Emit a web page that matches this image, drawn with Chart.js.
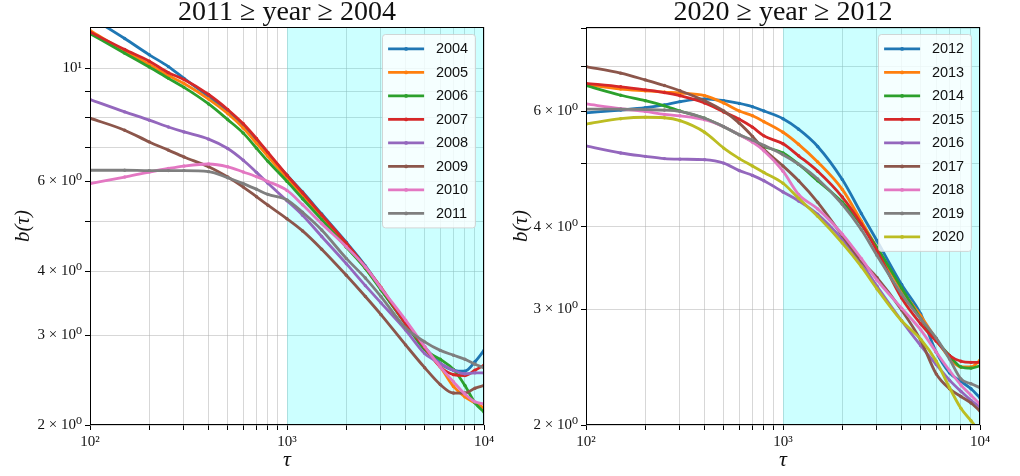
<!DOCTYPE html>
<html>
<head>
<meta charset="utf-8">
<script src="https://cdn.jsdelivr.net/npm/chart.js@4.4.1/dist/chart.umd.min.js"></script>
<style>
  html, body { margin: 0; padding: 0; background: #fff; }
  #wrap { position: relative; width: 1020px; height: 476px; }
  canvas { position: absolute; top: 0; }
  #left { left: 0; }
  #right { left: 500px; }
</style>
</head>
<body>
<div id="wrap">
  <canvas id="left" width="500" height="476"></canvas>
  <canvas id="right" width="520" height="476"></canvas>
</div>
<script>
// lag tau (x) shared by every curve
const tau = [100, 150, 200, 250, 300, 400, 500, 600, 700, 800, 1000, 1200, 1500,
             2000, 2500, 3000, 4000, 5000, 6000, 7000, 8000, 9000, 10000];

const yearsEarly = ['2004', '2005', '2006', '2007', '2008', '2009', '2010', '2011'];
const yearsLate = ['2012', '2013', '2014', '2015', '2016', '2017', '2018', '2019', '2020'];

// b(tau) per year
const b2004 = [12.60, 11.43, 10.62, 10.07, 9.55, 8.80, 8.25, 7.72, 7.22, 6.80, 6.17, 5.72, 5.18, 4.56, 4.10, 3.70, 3.16, 2.84, 2.64, 2.56, 2.55, 2.66, 2.80];
const b2005 = [11.86, 10.80, 10.17, 9.67, 9.33, 8.70, 8.15, 7.63, 7.13, 6.72, 6.08, 5.62, 5.10, 4.48, 4.06, 3.69, 3.16, 2.82, 2.60, 2.38, 2.27, 2.21, 2.16];
const b2006 = [11.69, 10.70, 10.05, 9.55, 9.17, 8.51, 7.93, 7.46, 6.97, 6.57, 6.00, 5.55, 5.05, 4.46, 4.05, 3.68, 3.16, 2.81, 2.69, 2.57, 2.39, 2.21, 2.12];
const b2007 = [11.77, 10.88, 10.32, 9.80, 9.50, 8.88, 8.30, 7.78, 7.28, 6.84, 6.17, 5.70, 5.16, 4.54, 4.08, 3.72, 3.16, 2.84, 2.60, 2.51, 2.50, 2.56, 2.62];
const b2008 = [8.68, 8.21, 7.91, 7.67, 7.50, 7.26, 6.96, 6.60, 6.25, 5.95, 5.50, 5.15, 4.68, 4.14, 3.75, 3.47, 3.07, 2.76, 2.64, 2.56, 2.52, 2.53, 2.53];
const b2009 = [7.98, 7.56, 7.17, 6.91, 6.70, 6.41, 6.12, 5.85, 5.60, 5.39, 5.07, 4.80, 4.42, 3.93, 3.57, 3.29, 2.87, 2.59, 2.40, 2.31, 2.31, 2.36, 2.39];
const b2010 = [5.94, 6.12, 6.26, 6.36, 6.43, 6.49, 6.41, 6.26, 6.13, 6.00, 5.76, 5.40, 4.96, 4.47, 4.08, 3.71, 3.21, 2.85, 2.60, 2.43, 2.30, 2.22, 2.20];
const b2011 = [6.31, 6.31, 6.30, 6.30, 6.30, 6.27, 6.10, 5.94, 5.79, 5.66, 5.52, 5.22, 4.82, 4.24, 3.88, 3.57, 3.10, 2.91, 2.80, 2.74, 2.69, 2.63, 2.59];

const b2012 = [5.96, 6.02, 6.07, 6.13, 6.20, 6.26, 6.22, 6.16, 6.09, 6.00, 5.84, 5.63, 5.30, 4.72, 4.19, 3.81, 3.27, 2.95, 2.58, 2.40, 2.33, 2.27, 2.20];
const b2013 = [6.58, 6.48, 6.44, 6.41, 6.39, 6.33, 6.17, 6.00, 5.90, 5.78, 5.57, 5.34, 5.02, 4.56, 4.08, 3.72, 3.21, 2.93, 2.70, 2.53, 2.45, 2.45, 2.51];
const b2014 = [6.56, 6.34, 6.22, 6.11, 6.00, 5.85, 5.68, 5.52, 5.40, 5.30, 5.18, 4.98, 4.70, 4.36, 4.03, 3.72, 3.23, 2.90, 2.69, 2.55, 2.45, 2.44, 2.46];
const b2015 = [6.61, 6.53, 6.46, 6.40, 6.33, 6.17, 5.98, 5.83, 5.67, 5.50, 5.35, 5.13, 4.86, 4.44, 4.04, 3.68, 3.12, 2.85, 2.68, 2.55, 2.50, 2.49, 2.49];
const b2016 = [5.31, 5.18, 5.12, 5.08, 5.07, 5.06, 5.00, 4.87, 4.79, 4.70, 4.52, 4.38, 4.18, 3.83, 3.52, 3.25, 2.88, 2.64, 2.47, 2.34, 2.25, 2.18, 2.13];
const b2017 = [7.01, 6.85, 6.69, 6.56, 6.44, 6.22, 6.00, 5.75, 5.49, 5.25, 4.95, 4.70, 4.36, 3.88, 3.55, 3.35, 2.99, 2.69, 2.39, 2.27, 2.21, 2.16, 2.10];
const b2018 = [6.15, 6.05, 5.99, 5.93, 5.90, 5.82, 5.68, 5.52, 5.38, 5.22, 4.86, 4.48, 4.26, 3.90, 3.58, 3.32, 3.01, 2.79, 2.58, 2.42, 2.30, 2.22, 2.15];
const b2019 = [6.04, 6.04, 6.03, 6.02, 5.99, 5.85, 5.68, 5.52, 5.42, 5.32, 5.15, 4.98, 4.73, 4.33, 3.96, 3.62, 3.16, 2.90, 2.71, 2.52, 2.35, 2.31, 2.28];
const b2020 = [5.73, 5.84, 5.87, 5.86, 5.80, 5.57, 5.27, 5.08, 4.95, 4.84, 4.66, 4.42, 4.15, 3.78, 3.48, 3.22, 2.88, 2.70, 2.50, 2.28, 2.12, 2.03, 1.95];

const seriesEarly = [b2004, b2005, b2006, b2007, b2008, b2009, b2010, b2011];
const seriesLate = [b2012, b2013, b2014, b2015, b2016, b2017, b2018, b2019, b2020];

// axis ticks; labels only on some of them, the rest just get a grid line
const xTicks = [100, 200, 300, 400, 500, 600, 700, 800, 900,
                1000, 2000, 3000, 4000, 5000, 6000, 7000, 8000, 9000, 10000];
const xTickText = { 100: '10²', 1000: '10³', 10000: '10⁴' };
const yTicksEarly = [2, 3, 4, 5, 6, 7, 8, 9, 10];
const yTicksLate = [2, 3, 4, 5, 6, 7, 8];
const yTickText = { 2: '2 × 10⁰', 3: '3 × 10⁰', 4: '4 × 10⁰', 6: '6 × 10⁰', 10: '10¹' };

// shaded fitting window
const bandFrom = 1000;
const bandTo = 10000;

const palette = ['#1f77b4', '#ff7f0e', '#2ca02c', '#d62728', '#9467bd',
                 '#8c564b', '#e377c2', '#7f7f7f', '#bcbd22'];

const serif = '"Liberation Serif", "DejaVu Serif", serif';

const band = {
  id: 'band',
  beforeDatasetsDraw(chart) {
    const { ctx, chartArea: a, scales: { x } } = chart;
    const x0 = x.getPixelForValue(bandFrom);
    const x1 = x.getPixelForValue(bandTo);
    ctx.save();
    ctx.fillStyle = 'rgba(0, 255, 255, 0.2)';
    ctx.fillRect(x0, a.top, x1 - x0, a.bottom - a.top);
    ctx.restore();
  }
};

// box around the axes, legend in the upper right, title on top
const decor = {
  id: 'decor',
  afterDraw(chart, args, opts) {
    const { ctx, chartArea: a } = chart;
    ctx.save();

    ctx.strokeStyle = '#000';
    ctx.lineWidth = 1;
    ctx.strokeRect(Math.round(a.left) + 0.5, Math.round(a.top) + 0.5,
                   Math.round(a.right - a.left) - 1, Math.round(a.bottom - a.top) - 1);

    ctx.fillStyle = '#111';
    ctx.font = '28px ' + serif;
    ctx.textAlign = 'center';
    ctx.textBaseline = 'alphabetic';
    ctx.fillText(opts.title, (a.left + a.right) / 2, 20);

    const sets = chart.data.datasets;
    const rowH = 23.5, w = 93;
    const h = sets.length * rowH + 5.4;
    const x0 = a.right - 8.5 - w;
    const y0 = a.top + 7.5;
    ctx.beginPath();
    if (ctx.roundRect) ctx.roundRect(x0, y0, w, h, 3); else ctx.rect(x0, y0, w, h);
    ctx.fillStyle = 'rgba(255, 255, 255, 0.8)';
    ctx.fill();
    ctx.strokeStyle = 'rgba(204, 204, 204, 0.8)';
    ctx.stroke();

    ctx.font = '14.5px "Liberation Sans", Arial, sans-serif';
    ctx.textAlign = 'left';
    ctx.textBaseline = 'middle';
    sets.forEach((ds, i) => {
      const cy = y0 + 2.7 + rowH * (i + 0.5);
      ctx.strokeStyle = ds.borderColor;
      ctx.lineWidth = 2.8;
      ctx.beginPath();
      ctx.moveTo(x0 + 5.6, cy);
      ctx.lineTo(x0 + 41.6, cy);
      ctx.stroke();
      ctx.fillStyle = ds.borderColor;
      ctx.beginPath();
      ctx.arc(x0 + 23.6, cy, 1.9, 0, Math.PI * 2);
      ctx.fill();
      ctx.fillStyle = '#111';
      ctx.fillText(ds.label, x0 + 53.4, cy + 0.5);
    });
    ctx.restore();
  }
};

function panel(id, title, years, series, yMax, yTicks, yWidth, padRight, yTitlePad) {
  const datasets = years.map((yr, i) => ({
    label: yr,
    data: tau.map((t, j) => ({ x: t, y: series[i][j] })),
    borderColor: palette[i],
    backgroundColor: palette[i],
    borderWidth: 2.8,
    pointRadius: 1.7,
    pointBorderWidth: 0,
    pointHoverRadius: 1.7,
    cubicInterpolationMode: 'monotone',
    order: -i
  }));

  const tickFont = { family: serif, size: 15 };
  const grid = { color: 'rgba(176, 176, 176, 0.5)', lineWidth: 1, tickColor: '#000', tickLength: 5 };

  return new Chart(document.getElementById(id), {
    type: 'line',
    data: { datasets },
    plugins: [band, decor],
    options: {
      responsive: false,
      animation: false,
      devicePixelRatio: 1,
      layout: { padding: { left: 0, right: padRight, top: 27, bottom: 0 } },
      plugins: {
        legend: { display: false },
        tooltip: { enabled: false },
        decor: { title }
      },
      scales: {
        x: {
          type: 'logarithmic',
          min: 100,
          max: 10000,
          afterBuildTicks: s => { s.ticks = xTicks.map(v => ({ value: v })); },
          afterFit: s => { s.height = 51; },
          ticks: {
            autoSkip: false, maxRotation: 0, padding: 3, color: '#111', font: tickFont,
            callback: v => xTickText[v] || ''
          },
          grid,
          border: { display: false },
          title: {
            display: true, text: 'τ', color: '#111',
            font: { family: serif, size: 22, style: 'italic' },
            padding: { top: 0, bottom: 3 }
          }
        },
        y: {
          type: 'logarithmic',
          min: 2,
          max: yMax,
          afterBuildTicks: s => { s.ticks = yTicks.map(v => ({ value: v })); },
          afterFit: s => { s.width = yWidth; },
          ticks: {
            autoSkip: false, padding: 3, color: '#111', font: tickFont,
            callback: v => yTickText[v] || ''
          },
          grid,
          border: { display: false },
          title: {
            display: true, text: 'b(τ)', color: '#111',
            font: { family: serif, size: 21, style: 'italic' },
            padding: { top: yTitlePad, bottom: 0 }
          }
        }
      }
    }
  });
}

panel('left', '2011 ≥ year ≥ 2004', yearsEarly, seriesEarly, 12.04, yTicksEarly, 90, 16, 10.4);
panel('right', '2020 ≥ year ≥ 2012', yearsLate, seriesLate, 8.05, yTicksLate, 86, 40, 8.4);
</script>
</body>
</html>
